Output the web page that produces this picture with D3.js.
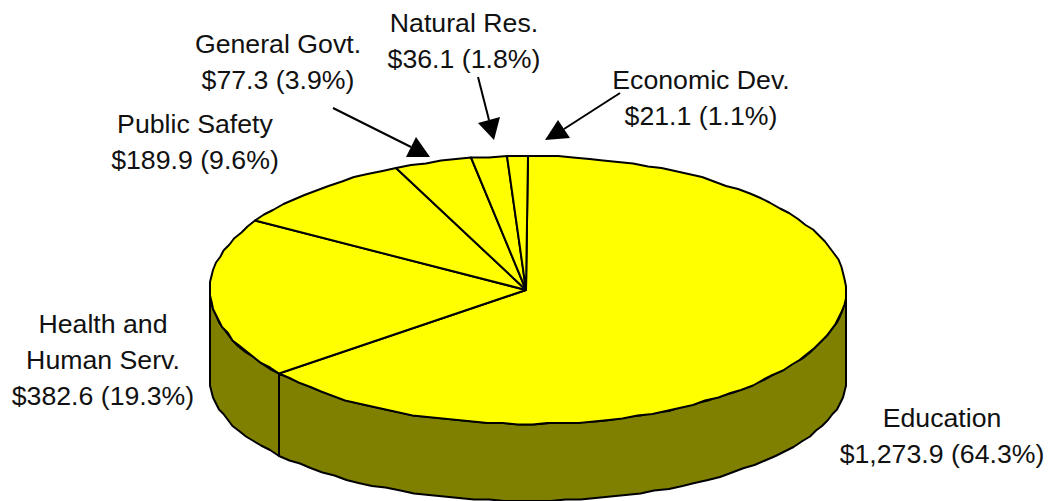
<!DOCTYPE html>
<html><head><meta charset="utf-8">
<script src="https://cdnjs.cloudflare.com/ajax/libs/d3/7.8.5/d3.min.js"></script>
<style>html,body{margin:0;background:#fff;overflow:hidden}svg{display:block}text{font-family:"Liberation Sans",Arial,sans-serif;font-size:26.7px;fill:#111;text-anchor:middle}</style>
</head><body><svg id="c" width="1049" height="501"></svg>
<script>
const categories = ["Education","Health and Human Serv.","Public Safety","General Govt.","Natural Res.","Economic Dev."];
const values = [1273.9,382.6,189.9,77.3,36.1,21.1];
const valueLabels = ["$1,273.9 (64.3%)","$382.6 (19.3%)","$189.9 (9.6%)","$77.3 (3.9%)","$36.1 (1.8%)","$21.1 (1.1%)"];
const labelLines = [["Education"],["Health and","Human Serv."],["Public Safety"],["General Govt."],["Natural Res."],["Economic Dev."]];

// layout
const cx=528, cy=290, rx=318, ry=134, apex=[526,290];
const bottomCy=380, bottomRy=121;
const labelPos=[[942,427],[103,333],[195,133],[278,53],[464,32],[701,89]];
const lineGap=36;
const arrows=[
 {from:[333,108],head:[[430,157],[406,157],[416,137]]},
 {from:[478,77],head:[[494,140],[478,123],[500,117]]},
 {from:[620,93],head:[[545,140],[570,138],[558,120]]}
];

const svg=d3.select("#c");
const px=d3.scaleLinear().domain([-1,1]).range([cx-rx,cx+rx]);
const py=d3.scaleLinear().domain([-1,1]).range([cy-ry,cy+ry]);
const pyB=d3.scaleLinear().domain([-1,1]).range([bottomCy-bottomRy,bottomCy+bottomRy]);
const GRID=1.5;
const snap=v=>Math.round(v/GRID)*GRID;
const pt=a=>[snap(px(Math.sin(a))),snap(py(-Math.cos(a)))];
const ptB=a=>[snap(px(Math.sin(a))),snap(pyB(-Math.cos(a)))];
const arcs=d3.pie().sort(null).startAngle(0).endAngle(2*Math.PI)(values);
const STEP=2*Math.PI/130;
const samples=(a0,a1)=>{const n=Math.max(1,Math.round((a1-a0)/STEP));return d3.range(n+1).map(i=>a0+(a1-a0)*i/n)};
const line=d3.line();

// side wall: visible from angle PI/2 (right) through PI to 3PI/2 (left)
const sideG=svg.append("g");
arcs.forEach(d=>{
  const a0=Math.max(d.startAngle,Math.PI/2), a1=Math.min(d.endAngle,3*Math.PI/2);
  if(a1<=a0) return;
  const s=samples(a0,a1);
  sideG.append("path").attr("d",line(s.map(pt).concat(s.map(ptB).reverse()))+"Z")
    .attr("fill","#808000").attr("stroke","#000").attr("stroke-width",2).attr("stroke-linejoin","round");
});

// top face
const topG=svg.append("g");
arcs.forEach(d=>{
  const rim=samples(d.startAngle,d.endAngle).map(pt);
  topG.append("path").attr("d",line([apex,...rim])+"Z")
    .attr("fill","#ffff00").attr("stroke","#000").attr("stroke-width",2).attr("stroke-linejoin","round");
});

// callout arrows
arrows.forEach(a=>{
  svg.append("line").attr("x1",a.from[0]).attr("y1",a.from[1])
    .attr("x2",d3.mean(a.head.slice(1),p=>p[0])).attr("y2",d3.mean(a.head.slice(1),p=>p[1]))
    .attr("stroke","#000").attr("stroke-width",2);
  svg.append("path").attr("d",line(a.head)+"Z").attr("fill","#000");
});

// labels
categories.forEach((c,i)=>{
  const t=svg.append("text").attr("aria-label",c);
  const rows=[...labelLines[i],valueLabels[i]];
  rows.forEach((r,j)=>t.append("tspan").attr("x",labelPos[i][0]).attr("y",labelPos[i][1]+j*lineGap).text(r));
});
</script></body></html>
